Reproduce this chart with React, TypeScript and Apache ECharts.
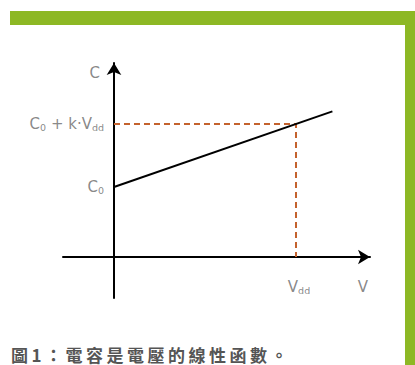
import React, { useEffect, useRef } from "react";
import * as echarts from "echarts";

// Linear function C = C0 + k*V (normalised: C0 = 1, Vdd = 1, k = 0.9)
const lineX = [0, 1.2];
const lineY = [1, 2.08];
const guideX = [0, 1, 1];
const guideY = [1.9, 1.9, 0];
const labelTexts = ["{m|C}", "{m|C}{s|0}{m| + k·V}{s|dd}", "{m|C}{s|0}", "{m|V}{s|dd}", "{m|V}"];
const labelX = [0, 0, 0, 1, 1.368];
const labelY = [2.63, 1.9, 1, -0.43, -0.43];
const caption = "圖1：電容是電壓的線性函數。";

export default function App() {
  const ref = useRef<HTMLDivElement>(null);
  useEffect(() => {
    document.body.style.margin = "0";
    const chart = echarts.init(ref.current!, null, { renderer: "svg" });
    const font = "'DejaVu Sans', sans-serif";
    const gray = "#6a6a6a";
    const rich = {
      m: { fontSize: 15, color: gray, fontFamily: font },
      s: { fontSize: 9.5, color: gray, fontFamily: font, padding: [7, 0, 0, 0] },
    };
    const leftIdx = [0, 1, 2];
    const centerIdx = [3, 4];
    chart.setOption({
      animation: false,
      backgroundColor: "#ffffff",
      grid: { left: 63, right: 45, top: 63, bottom: 67 },
      xAxis: {
        type: "value",
        min: -0.2802,
        max: 1.4066,
        splitLine: { show: false },
        axisTick: { show: false },
        axisLabel: { show: false },
        axisLine: {
          show: true,
          onZero: true,
          symbol: ["none", "arrow"],
          symbolSize: [11, 12],
          lineStyle: { color: "#000", width: 2 },
        },
      },
      yAxis: {
        type: "value",
        min: -0.5857,
        max: 2.7714,
        splitLine: { show: false },
        axisTick: { show: false },
        axisLabel: { show: false },
        axisLine: {
          show: true,
          onZero: true,
          symbol: ["none", "arrow"],
          symbolSize: [11, 12],
          lineStyle: { color: "#000", width: 2 },
        },
      },
      series: [
        {
          type: "line",
          data: guideX.map((x, i) => [x, guideY[i]]),
          symbol: "none",
          lineStyle: { color: "#c4622d", width: 2, type: [6, 4] },
          z: 3,
        },
        {
          type: "line",
          data: lineX.map((x, i) => [x, lineY[i]]),
          symbol: "none",
          lineStyle: { color: "#000", width: 2 },
          z: 4,
        },
        {
          type: "scatter",
          symbolSize: 0,
          data: leftIdx.map((i) => ({
            value: [labelX[i], labelY[i]],
            label: {
              show: true,
              position: "left",
              distance: i === 0 ? 14 : 10,
              color: gray,
              formatter: labelTexts[i],
              rich,
            },
          })),
          z: 5,
        },
        {
          type: "scatter",
          symbolSize: 0,
          data: centerIdx.map((i) => ({
            value: [labelX[i], labelY[i]],
            label: {
              show: true,
              position: "inside",
              color: gray,
              offset: [i === 3 ? 3 : 0, 0],
              formatter: labelTexts[i],
              rich,
            },
          })),
          z: 5,
        },
      ],
      graphic: [
        { type: "rect", shape: { x: 10, y: 11, width: 405, height: 14 }, style: { fill: "#8db824" } },
        { type: "rect", shape: { x: 405, y: 11, width: 10, height: 354 }, style: { fill: "#8db824" } },
        {
          type: "text",
          x: 11,
          y: 354,
          style: {
            text: caption,
            fontSize: 17,
            fontWeight: "bold",
            fill: "#555555",
            fontFamily: "'Noto Sans CJK TC', sans-serif",
            verticalAlign: "middle",
          },
        },
      ],
    });
    const spaceCaption = () => {
      const texts = ref.current?.querySelectorAll("text") || [];
      texts.forEach((t) => {
        if (t.textContent === caption) t.setAttribute("letter-spacing", "3.5");
      });
    };
    spaceCaption();
    chart.on("finished", spaceCaption);
    return () => chart.dispose();
  }, []);
  return <div ref={ref} style={{ width: 415, height: 365 }} />;
}
